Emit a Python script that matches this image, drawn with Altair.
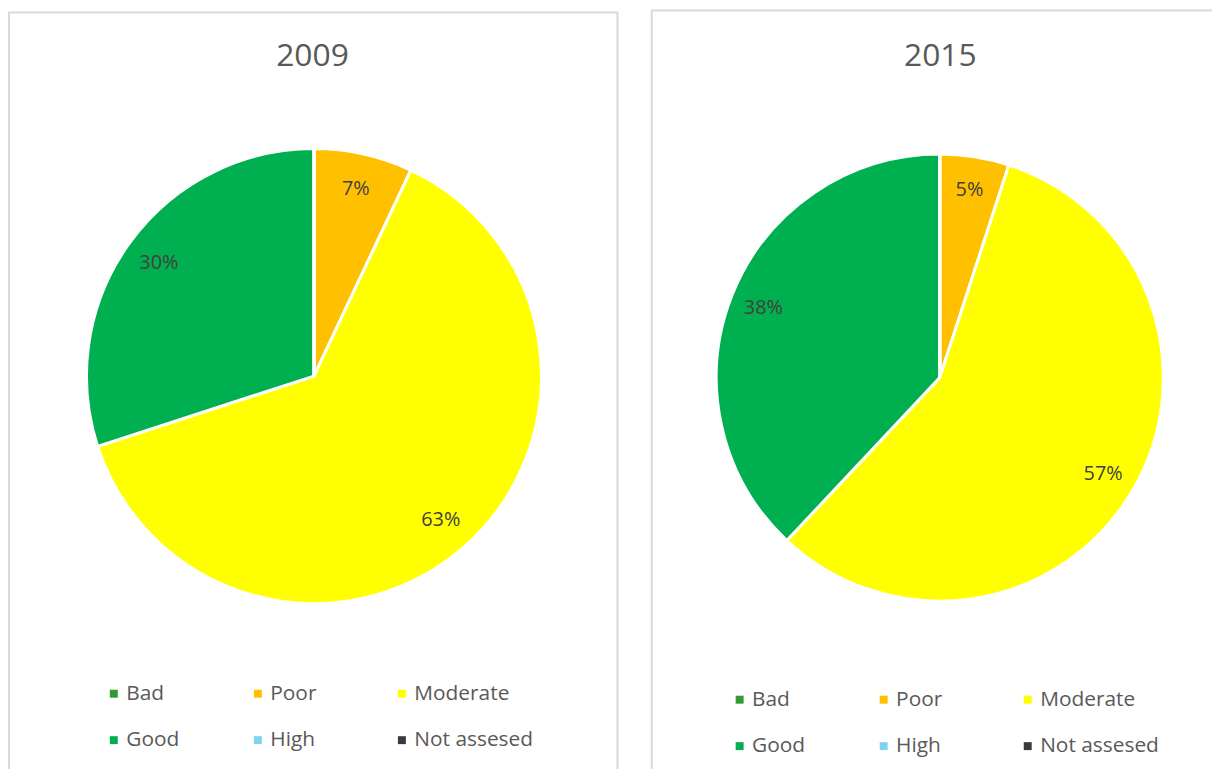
import altair as alt
import pandas as pd

categories = ["Bad", "Poor", "Moderate", "Good", "High", "Not assesed"]
colors = ["#339933", "#FFC000", "#FFFF00", "#00B050", "#7FD3F0", "#3A3A40"]
years = ["2009", "2015"]
values_2009 = [0, 7, 63, 30, 0, 0]
values_2015 = [0, 5, 57, 38, 0, 0]

FONT = "Open Sans"

# layout (chart coordinates)
panels = {
    "2009": dict(values=values_2009, cx=308, cy=368, r=229, lr=193,
                 frame=(1, 613.5, 2, 800), tx=306.5, ty=45.5,
                 lx=96, ly=677),
    "2015": dict(values=values_2015, cx=938, cy=369.5, r=225, lr=191,
                 frame=(648, 1240, 0, 800), tx=938.5, ty=45.5,
                 lx=726, ly=683),
}


def panel(year):
    p = panels[year]
    df = pd.DataFrame({
        "category": categories,
        "value": p["values"],
        "idx": list(range(len(categories))),
        "label": [f"{v}%" for v in p["values"]],
    })
    x0, x1, y0, y1 = p["frame"]
    frame = alt.Chart(pd.DataFrame({"year": [year]})).mark_rect(
        filled=False, stroke="#D9D9D9", strokeWidth=2
    ).encode(x=alt.value(x0), x2=alt.value(x1), y=alt.value(y0), y2=alt.value(y1))

    title = alt.Chart(pd.DataFrame({"year": [year]})).mark_text(
        font=FONT, fontSize=32, color="#595959", align="center", baseline="middle"
    ).encode(text="year:N", x=alt.value(p["tx"]), y=alt.value(p["ty"]))

    pie = alt.Chart(df).mark_arc(
        outerRadius=p["r"], stroke="white", strokeWidth=3
    ).encode(
        theta=alt.Theta("value:Q", stack=True),
        order=alt.Order("idx:Q"),
        color=alt.Color(
            "category:N",
            sort=categories,
            scale=alt.Scale(domain=categories, range=colors),
            legend=alt.Legend(
                title=None, orient="none", legendX=p["lx"], legendY=p["ly"],
                direction="horizontal", columns=3, gridAlign="all",
                symbolType="square", symbolSize=64, symbolStrokeWidth=0,
                labelFont=FONT, labelFontSize=21, labelColor="#595959",
                labelOffset=2, columnPadding=2, rowPadding=25, padding=0,
                labelLimit=300,
            ),
        ),
        x=alt.value(p["cx"]),
        y=alt.value(p["cy"]),
    )

    labels = alt.Chart(df).transform_filter("datum.value > 0").mark_text(
        font=FONT, fontSize=20, color="#404040", align="center", baseline="middle"
    ).encode(
        theta=alt.Theta("value:Q", stack=True),
        order=alt.Order("idx:Q"),
        radius=alt.value(p["lr"]),
        text="label:N",
        x=alt.value(p["cx"]),
        y=alt.value(p["cy"]),
    )
    return alt.layer(frame, pie, labels, title)


chart = alt.layer(panel("2009"), panel("2015")).resolve_scale(
    color="independent", theta="independent"
).properties(
    width=1212, height=761, autosize=alt.AutoSizeParams(type="none"), padding=0
).configure_view(stroke=None)

chart.save("out.html", embed_options={"renderer": "svg", "actions": False})
